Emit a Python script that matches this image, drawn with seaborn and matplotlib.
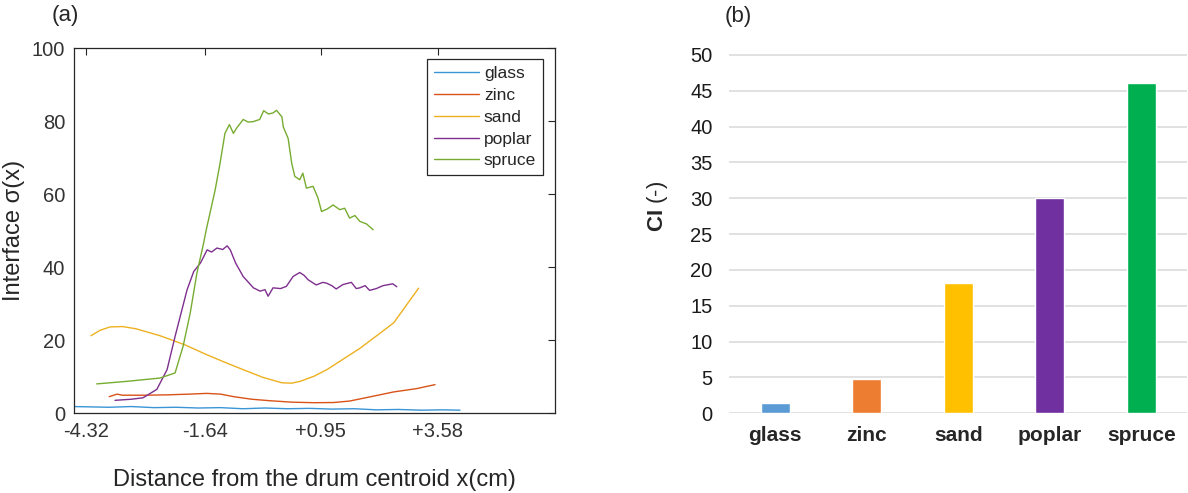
import pandas as pd
import seaborn as sns
import matplotlib.pyplot as plt

# panel (a): interface sigma(x) curves
glass_x = [-4.6, -4.2, -3.8, -3.3, -2.8, -2.3, -1.8, -1.3, -0.8, -0.3, 0.2, 0.7, 1.2, 1.7, 2.2, 2.7, 3.2, 3.7, 4.08]
glass_y = [1.9, 1.8, 1.7, 1.9, 1.6, 1.7, 1.5, 1.6, 1.3, 1.5, 1.3, 1.4, 1.2, 1.3, 1.0, 1.1, 0.9, 1.0, 0.9]

zinc_x = [-3.80, -3.70, -3.62, -3.50, -3.0, -2.5, -2.0, -1.61, -1.3, -1.0, -0.6, -0.2, 0.3, 0.8, 1.24, 1.6, 2.0, 2.59, 3.1, 3.52]
zinc_y = [4.6, 5.0, 5.3, 5.0, 5.0, 5.1, 5.3, 5.5, 5.3, 4.6, 3.9, 3.5, 3.1, 2.95, 3.0, 3.4, 4.4, 5.9, 6.8, 7.9]

sand_x = [-4.21, -4.0, -3.78, -3.5, -3.2, -2.66, -2.1, -1.61, -1.2, -0.79, -0.35, 0.08, 0.3, 0.49, 0.8, 1.09, 1.84, 2.59, 3.15]
sand_y = [21.3, 22.8, 23.7, 23.8, 23.2, 21.3, 18.8, 16.1, 14.0, 12.0, 9.9, 8.4, 8.3, 8.8, 10.2, 12.0, 17.9, 24.8, 34.3]

poplar_x = [-3.67, -3.3, -3.04, -2.73, -2.50, -2.32, -2.05, -1.90, -1.75, -1.60, -1.50, -1.38, -1.25, -1.15, -1.08, -0.96,
            -0.79, -0.56, -0.41, -0.30, -0.23, -0.12, 0.05, 0.18, 0.33, 0.48, 0.58, 0.67, 0.85, 1.0, 1.08, 1.20, 1.30,
            1.45, 1.64, 1.75, 1.83, 1.95, 2.05, 2.20, 2.35, 2.57, 2.66]
poplar_y = [3.6, 3.9, 4.3, 6.6, 12.0, 21.1, 33.9, 38.9, 41.2, 44.8, 44.2, 45.3, 44.9, 45.9, 44.8, 41.2,
            37.5, 34.4, 33.5, 33.9, 32.1, 34.4, 34.2, 34.8, 37.5, 38.6, 37.8, 36.6, 35.2, 35.9, 35.7, 35.0, 34.1,
            35.3, 35.9, 34.2, 34.4, 35.0, 33.7, 34.2, 35.0, 35.5, 34.7]

spruce_x = [-4.08, -3.40, -2.66, -2.32, -2.14, -1.98, -1.83, -1.68, -1.62, -1.57, -1.42, -1.31, -1.20, -1.10, -1.01, -0.94,
            -0.79, -0.68, -0.57, -0.42, -0.33, -0.22, -0.12, -0.04, 0.08, 0.11, 0.22, 0.30, 0.37, 0.48, 0.55, 0.63,
            0.78, 0.89, 0.97, 1.10, 1.23, 1.38, 1.49, 1.60, 1.72, 1.83, 1.98, 2.13]
spruce_y = [8.1, 8.8, 9.7, 11.1, 18.4, 27.5, 38.4, 46.6, 50.3, 53.0, 61.2, 68.5, 76.7, 79.1, 76.7, 78.1,
            80.5, 79.8, 79.9, 80.5, 82.9, 82.0, 82.3, 83.0, 81.2, 78.5, 75.3, 68.5, 64.9, 64.0, 65.8, 61.7,
            62.2, 59.0, 55.3, 56.0, 57.1, 55.8, 56.2, 53.5, 54.2, 52.6, 51.9, 50.3]

line_names = ["glass", "zinc", "sand", "poplar", "spruce"]
line_colors = ["#3A95D6", "#D95319", "#EDB120", "#7E2F8E", "#77AC30"]
x_ticks = [-4.32, -1.64, 0.95, 3.58]
x_tick_labels = ["-4.32", "-1.64", "+0.95", "+3.58"]

# panel (b): CI bars
ci_names = ["glass", "zinc", "sand", "poplar", "spruce"]
ci_values = [1.44, 4.79, 18.2, 30.0, 46.1]
bar_colors = ["#5B9BD5", "#ED7D31", "#FFC000", "#7030A0", "#00B050"]

sns.set_style("white")
plt.rcParams['font.family'] = ['Liberation Sans', 'DejaVu Sans']
plt.rcParams['mathtext.fontset'] = 'custom'
plt.rcParams['mathtext.bf'] = 'Liberation Sans:bold'

series = {"glass": (glass_x, glass_y), "zinc": (zinc_x, zinc_y), "sand": (sand_x, sand_y),
          "poplar": (poplar_x, poplar_y), "spruce": (spruce_x, spruce_y)}
rows = []
for name in line_names:
    xs, ys = series[name]
    for xv, yv in zip(xs, ys):
        rows.append({"x": xv, "y": yv, "material": name})
df_lines = pd.DataFrame(rows)
df_bars = pd.DataFrame({"material": ci_names, "CI": ci_values})

fig = plt.figure(figsize=(11.88, 4.93), dpi=100)
ax1 = fig.add_axes([0.0619, 0.1613, 0.4053, 0.7408])
ax2 = fig.add_axes([0.6139, 0.1617, 0.3853, 0.7312])

# ---- left panel
sns.lineplot(data=df_lines, x="x", y="y", hue="material", hue_order=line_names,
             palette=line_colors, estimator=None, sort=True, linewidth=1.0, ax=ax1)
ax1.set_xlim(-4.601, 6.215)
ax1.set_ylim(0, 100)
ax1.set_xticks(x_ticks)
ax1.set_xticklabels(x_tick_labels)
ax1.set_yticks([0, 20, 40, 60, 80, 100])
ax1.tick_params(direction="in", length=5, width=0.8, top=True, right=True, labelsize=14.5,
                labelcolor="#333333", color="#262626", pad=6)
for sp in ax1.spines.values():
    sp.set_color("#262626")
    sp.set_linewidth(0.9)
ax1.set_xlabel("Distance from the drum centroid x(cm)", fontsize=17, labelpad=20)
ax1.set_ylabel("Interface σ(x)", fontsize=17)
ax1.yaxis.set_label_coords(-0.1, 0.5)
leg = ax1.legend(loc="upper right", bbox_to_anchor=(1 - 12 / 481.5, 1 - 11 / 365.2), borderaxespad=0,
                 fontsize=12.5, handlelength=2.6, labelspacing=0.38, handletextpad=0.25,
                 fancybox=False, framealpha=1, edgecolor="#262626", borderpad=0.4)
leg.get_frame().set_linewidth(0.9)
ax1.text(-0.045, 1.075, "(a)", transform=ax1.transAxes, fontsize=16)

# ---- right panel
sns.barplot(data=df_bars, x="material", y="CI", hue="material", palette=bar_colors,
            width=0.317, saturation=1, legend=False, ax=ax2, zorder=3)
ax2.set_xlim(-0.5, 4.5)
ax2.set_ylim(0, 50.3)
ax2.set_yticks(range(0, 51, 5))
ax2.grid(axis="y", color="#D9D9D9", linewidth=1.1, zorder=0)
ax2.set_axisbelow(True)
for sp in ax2.spines.values():
    sp.set_visible(False)
ax2.tick_params(axis="y", length=0, labelsize=14.5, pad=12, labelcolor="#1a1a1a")
ax2.tick_params(axis="x", length=0, labelsize=15, pad=9)
for lab in ax2.get_xticklabels():
    lab.set_fontweight("bold")
ax2.set_xlabel("")
ax2.set_ylabel(r"$\bf{CI}$ (-)", fontsize=16)
ax2.yaxis.set_label_coords(-0.13, 0.575)
ax2.text(-0.01, 1.085, "(b)", transform=ax2.transAxes, fontsize=16)

fig.savefig("out.png", dpi=100)
